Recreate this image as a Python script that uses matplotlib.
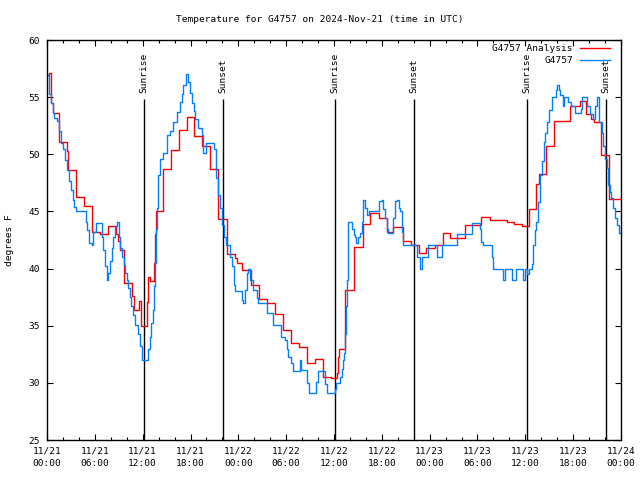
import matplotlib
matplotlib.use("Agg")
import matplotlib.pyplot as plt
from matplotlib.ticker import MultipleLocator

# ---- data (hours since 2024-11-21 00:00 UTC, temperature in F) ----
obs_hours = [0.0, 0.2, 0.45, 0.7, 0.9, 1.2, 1.5, 1.7, 2.0, 2.3, 2.55, 2.75, 3.0, 3.2, 3.4, 3.6,
             4.85, 5.05, 5.27, 5.6, 5.8, 6.1, 6.9, 7.07, 7.3, 7.5, 7.7, 7.9, 8.1, 8.32, 8.5, 8.8,
             9.0, 9.2, 9.4, 9.6, 9.8, 10.0, 10.2, 10.4, 10.5, 10.8, 11.0, 11.45, 11.7, 11.96,
             12.7, 12.9, 13.1, 13.3, 13.45, 13.55, 13.65, 13.76, 13.9, 14.17, 14.5, 15.0, 15.4,
             15.85, 16.27, 16.7, 16.9, 17.1, 17.4, 17.7, 17.9, 18.15, 18.4, 18.56, 19.0, 19.4,
             19.6, 20.0, 20.9, 21.2, 21.5, 21.7, 22.0, 22.2, 22.5, 22.95, 23.2, 23.4, 23.6,
             24.4, 24.6, 24.8, 25.05, 25.25, 25.46, 25.9, 26.3, 26.5, 27.6, 28.3, 29.4, 29.85,
             30.06, 30.27, 30.57, 30.8, 31.7, 31.9, 32.65, 32.9, 33.8, 34.0, 34.9, 35.1, 36.1,
             36.25, 36.8, 36.96, 37.1, 37.2, 37.4, 37.5, 37.6, 37.7, 37.8, 38.3, 38.5, 38.65,
             38.8, 39.05, 39.3, 39.5, 39.7, 39.9, 40.1, 40.4, 41.7, 42.0, 42.2, 42.4, 42.6,
             42.8, 43.45, 43.65, 43.9, 44.1, 44.25, 44.49, 44.6, 44.7, 46.4, 46.8, 47.0, 47.8,
             48.9, 49.5, 51.4, 53.3, 54.3, 54.5, 54.7, 55.8, 56.0, 57.2, 57.45, 58.3, 58.8,
             59.75, 59.96, 60.2, 60.4, 60.8, 61.0, 61.2, 61.4, 61.6, 61.8, 62.05, 62.3, 62.5,
             62.7, 63.0, 63.3, 63.8, 64.0, 64.2, 64.4, 64.7, 64.85, 65.4, 65.7, 66.2, 67.0,
             67.15, 67.7, 68.1, 68.5, 68.7, 68.95, 69.2, 69.3, 69.6, 69.8, 70.0, 70.2, 70.4,
             70.6, 70.8, 71.0, 71.25, 71.5, 71.7, 72.0]
obs_temps = [56.9, 55.3, 54.5, 53.6, 53.2, 52.9, 52.0, 51.0, 50.5, 49.5, 48.6, 47.7, 46.9, 46.0, 45.4, 45.0,
             44.1, 43.4, 42.2, 42.1, 43.2, 44.0, 42.8, 41.6, 40.2, 39.0, 39.6, 40.7, 41.8, 42.8, 43.7, 44.1,
             42.8, 41.8, 41.0, 40.3, 39.6, 39.0, 38.3, 37.5, 36.7, 35.9, 35.1, 34.3, 33.2, 32.0,
             33.0, 34.0, 35.2, 36.4, 38.5, 40.5, 43.5, 45.3, 48.2, 49.6, 50.1, 51.7, 52.0,
             52.8, 53.7, 54.6, 55.3, 56.1, 57.0, 56.35, 55.4, 54.5, 53.8, 53.1, 52.3, 51.7,
             50.1, 51.0, 50.5, 47.9, 46.4, 45.3, 43.8, 42.8, 42.06, 41.0, 40.2, 38.6, 38.0,
             37.25, 36.96, 38.1, 39.6, 40.0, 39.0, 38.1, 37.4, 36.96, 36.1, 35.1, 34.0, 33.75,
             33.0, 32.3, 31.7, 31.0, 32.0, 31.1, 30.0, 29.1, 30.1, 31.0, 29.9, 29.1, 29.5,
             30.0, 30.5, 31.2, 32.0, 32.6, 34.3, 36.7, 39.0, 41.9, 44.1, 43.5, 42.9, 42.8,
             42.2, 42.8, 43.1, 44.1, 46.0, 45.3, 44.7, 45.0, 45.9, 46.0, 45.2, 44.4, 43.5,
             43.1, 44.4, 45.9, 46.0, 45.3, 45.0, 43.2, 42.3, 42.06, 41.0, 40.0, 41.0, 42.06,
             41.0, 42.06, 43.0, 44.0, 43.5, 42.3, 42.06, 41.0, 40.0, 39.0, 40.0, 39.0, 40.0,
             39.0, 40.0, 39.5, 40.0, 40.4, 42.06, 43.4, 44.1, 45.85, 48.2, 49.4, 51.1, 51.9,
             52.8, 53.9, 55.0, 55.6, 56.1, 55.6, 55.2, 54.2, 55.0, 54.6, 54.2, 53.6, 54.0,
             55.0, 54.2, 53.5, 53.1, 54.2, 55.0, 53.8, 52.8, 51.9, 50.7, 49.6, 48.8, 47.3,
             46.7, 46.2, 45.3, 44.4, 43.8, 43.1, 43.1]

ana_hours = [0.0, 0.25, 0.5, 0.8, 1.5, 2.5, 2.65, 3.6, 4.7, 5.6, 6.65, 7.6, 8.7, 8.85, 9.1, 9.7,
             10.7, 10.9, 11.6, 11.8, 12.5, 12.65, 12.9, 13.45, 13.55, 13.72, 14.6, 15.6, 16.5,
             17.6, 18.5, 19.5, 20.5, 21.5, 22.6, 23.6, 23.8, 24.5, 25.6, 26.6, 27.6, 28.6, 29.6,
             30.6, 31.6, 32.6, 33.6, 34.6, 35.6, 36.35, 36.5, 36.65, 37.35, 38.45, 39.6, 40.5,
             41.6, 42.6, 43.45, 44.6, 45.7, 46.7, 47.6, 48.7, 49.7, 50.6, 52.4, 54.5, 55.6,
             57.7, 58.6, 59.6, 60.4, 61.4, 61.7, 62.6, 63.6, 65.6, 66.8, 67.6, 68.2, 68.6,
             69.5, 70.5, 72.0]
ana_temps = [56.9, 57.1, 54.5, 53.6, 51.1, 50.3, 48.6, 46.3, 45.5, 43.2, 43.0, 43.7, 43.0, 42.4, 41.6, 38.7,
             37.6, 36.4, 37.2, 35.0, 37.1, 39.3, 38.9, 40.5, 43.0, 45.0, 48.7, 50.4, 52.1,
             53.3, 51.6, 50.7, 48.7, 44.3, 41.3, 40.9, 40.5, 39.9, 38.6, 37.3, 37.0, 36.0, 34.6,
             33.5, 33.1, 31.7, 32.1, 30.5, 30.4, 30.9, 32.3, 33.0, 38.1, 41.9, 43.9, 44.9,
             44.4, 43.2, 43.6, 42.4, 42.1, 41.4, 41.8, 42.1, 43.1, 42.7, 43.8, 44.5, 44.25,
             44.05, 43.9, 43.7, 45.2, 47.4, 48.3, 50.7, 52.9, 54.2, 54.7, 53.5, 53.1, 52.8,
             49.9, 46.1, 46.1]

sun_hours = [12.13, 22.11, 36.16, 46.07, 60.25, 70.16]
sun_labels = ["Sunrise", "Sunset", "Sunrise", "Sunset", "Sunrise", "Sunset"]

xtick_hours = list(range(0, 73, 6))
xtick_labels = ["11/21\n00:00", "11/21\n06:00", "11/21\n12:00", "11/21\n18:00",
                "11/22\n00:00", "11/22\n06:00", "11/22\n12:00", "11/22\n18:00",
                "11/23\n00:00", "11/23\n06:00", "11/23\n12:00", "11/23\n18:00",
                "11/24\n00:00"]
ytick_vals = [25, 30, 35, 40, 45, 50, 55, 60]

title = "Temperature for G4757 on 2024-Nov-21 (time in UTC)"
ana_name = "G4757 Analysis"
obs_name = "G4757"

# ---- style ----
FONT = "DejaVu Sans Mono"
FS = 6.8
plt.rcParams["font.family"] = [FONT, "DejaVu Sans"]
plt.rcParams["font.size"] = FS

fig = plt.figure(figsize=(6.4, 4.8), dpi=100)
ax = fig.add_axes([47 / 640, 1 - 440 / 480, 574 / 640, 400 / 480])

ax.vlines(sun_hours, 25, 54.8, colors="black", linewidth=1.0, zorder=1)
for h, lab in zip(sun_hours, sun_labels):
    ax.text(h, 55.35, lab, rotation=90, ha="center", va="bottom", fontsize=FS, zorder=3)

ax.plot(ana_hours, ana_temps, drawstyle="steps-post", color="#ff0000", linewidth=1.0,
        label=ana_name, zorder=2)
ax.plot(obs_hours, obs_temps, drawstyle="steps-post", color="#0080ff", linewidth=1.0,
        label=obs_name, zorder=2)

ax.set_xlim(0, 72)
ax.set_ylim(25, 60)
ax.set_xticks(xtick_hours)
ax.set_xticklabels(xtick_labels, linespacing=1.45)
ax.xaxis.set_minor_locator(MultipleLocator(2))
ax.set_yticks(ytick_vals)
ax.tick_params(axis="both", which="major", direction="in", length=4.0, width=0.8,
               top=True, right=True, labelsize=FS)
ax.tick_params(axis="x", which="major", pad=5)
ax.tick_params(axis="y", which="major", pad=5)
ax.tick_params(axis="x", which="minor", direction="in", length=2.2, width=0.8, top=True)
for sp in ax.spines.values():
    sp.set_linewidth(1.0)

leg = ax.legend(loc="upper right", bbox_to_anchor=(0.981, 0.99), frameon=False,
                markerfirst=False, handlelength=3.2, handletextpad=0.75,
                labelspacing=0.35, borderpad=0, borderaxespad=0, fontsize=FS)

fig.text(0.5, 1 - 19 / 480, title, ha="center", va="center", fontsize=FS)
fig.text(10 / 640, 0.5, "degrees F", rotation=90, ha="center", va="center", fontsize=FS)

fig.savefig("out.png", dpi=100)
